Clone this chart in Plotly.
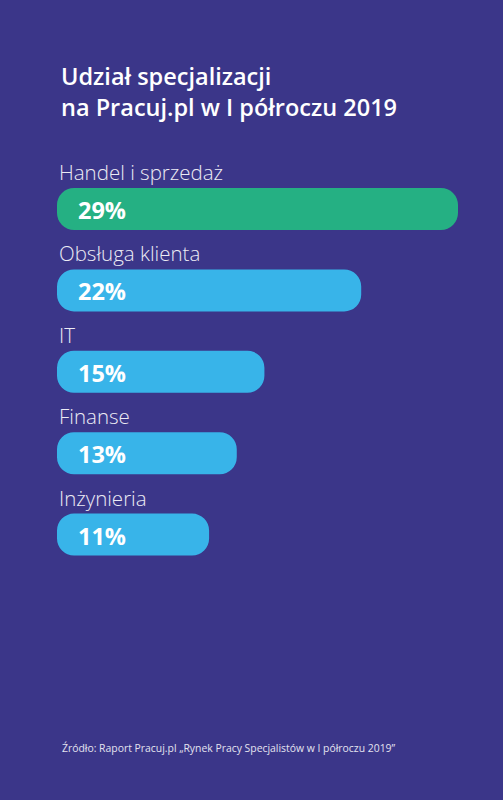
import plotly.graph_objects as go

categories = ["Handel i sprzedaż", "Obsługa klienta", "IT", "Finanse", "Inżynieria"]
values = [29, 22, 15, 13, 11]
bar_colors = ["#25b083", "#38b4e9", "#38b4e9", "#38b4e9", "#38b4e9"]
title_lines = ["Udział specjalizacji", "na Pracuj.pl w I półroczu 2019"]
source_text = "Źródło: Raport Pracuj.pl „Rynek Pracy Specjalistów w I półroczu 2019”"

BG = "#3b3689"
W, H = 503, 800
pos = list(range(len(categories)))

# pixel mapping helpers (axis ranges)
px_per_y = 81.4
y_top = 0 - 209 / px_per_y
y_bot = y_top + H / px_per_y
px_per_x = (458 - 57) / 29
x_left = -57 / px_per_x
x_right = x_left + W / px_per_x

bar_w = 42 / px_per_y

fig = go.Figure()
fig.add_trace(go.Bar(
    x=values, base=[0] * len(values), y=pos, orientation="h",
    marker=dict(color=bar_colors, cornerradius=17, line=dict(width=0)),
    width=bar_w, hoverinfo="skip",
))

annotations = []
for i, (c, v) in enumerate(zip(categories, values)):
    annotations.append(dict(
        x=0, y=i, xref="x", yref="y", text=c, showarrow=False,
        xanchor="left", yanchor="middle", xshift=0, yshift=37,
        font=dict(family="Open Sans", size=20.5, color="#ecebf4", weight=300),
    ))
    annotations.append(dict(
        x=0, y=i, xref="x", yref="y", text=f"{v}%", showarrow=False,
        xanchor="left", yanchor="middle", xshift=19, yshift=-1,
        font=dict(family="Open Sans", size=23.5, color="#ffffff", weight=700),
    ))

annotations.append(dict(
    x=59 / W, y=1 - 91 / H, xref="paper", yref="paper",
    text="<br>".join(title_lines), showarrow=False, align="left",
    xanchor="left", yanchor="middle",
    font=dict(family="Open Sans", size=23.5, color="#ffffff", weight=600),
))
annotations.append(dict(
    x=60 / W, y=1 - 748 / H, xref="paper", yref="paper",
    text=source_text, showarrow=False, align="left",
    xanchor="left", yanchor="middle",
    font=dict(family="Open Sans", size=10.4, color="#e4e3ef"),
))

fig.update_layout(
    width=W, height=H,
    margin=dict(l=0, r=0, t=0, b=0),
    paper_bgcolor=BG, plot_bgcolor=BG,
    showlegend=False, barmode="overlay",
    xaxis=dict(range=[x_left, x_right], visible=False, fixedrange=True),
    yaxis=dict(range=[y_bot, y_top], visible=False, fixedrange=True),
    annotations=annotations,
)

fig.write_html("out.html")
